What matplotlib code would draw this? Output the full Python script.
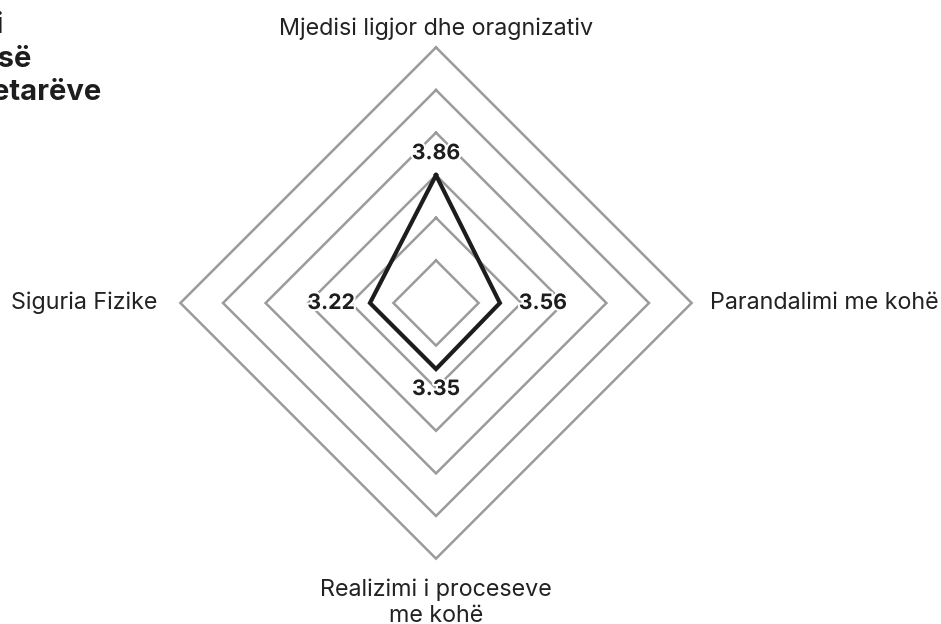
import matplotlib

matplotlib.use("Agg")
import matplotlib.patheffects as pe
import matplotlib.pyplot as plt
import numpy as np

plt.rcParams["font.family"] = ["Inter", "DejaVu Sans"]

# data
categories = [
    "Mjedisi ligjor dhe oragnizativ",
    "Parandalimi me kohë",
    "Realizimi i proceseve\nme kohë",
    "Siguria Fizike",
]
values = [3.86, 3.56, 3.35, 3.22]          # printed labels
drawn = [3.0, 1.5, 1.55, 1.55]             # where the polygon vertices sit on the grid
levels = [1, 2, 3, 4, 5, 6]
title_lines = ["Vlerësimi mesatar i", "perceptimit të sigurisë", "nga ana e vullnetarëve"]

W, H = 941, 624
fig = plt.figure(figsize=(W / 100, H / 100), dpi=100)

# axes centred on the radar, equal scale in both directions
cx, cy = 436, 321
lim = 7.2
half = lim * 42.6
ax = fig.add_axes([(cx - half) / W, (cy - half) / H, 2 * half / W, 2 * half / H])
ax.set_xlim(-lim, lim)
ax.set_ylim(-lim, lim)
ax.set_aspect("equal")
ax.axis("off")

angles = np.deg2rad([0, 90, 180, 270])
sx, sy = np.sin(angles), np.cos(angles)
ring_x = np.append(sx, sx[0])
ring_y = np.append(sy, sy[0])

for lvl in levels:
    ax.plot(lvl * ring_x, lvl * ring_y, color="#9b9b9b", linewidth=1.8,
            solid_joinstyle="miter", zorder=1)

r = np.array(drawn)
ax.plot(np.append(r * sx, r[0] * sx[0]), np.append(r * sy, r[0] * sy[0]),
        color="#1d1d1f", linewidth=3.0, solid_joinstyle="miter", zorder=3)

halo = [pe.withStroke(linewidth=3, foreground="white")]
val_offsets = [(0, 22), (43, 0), (0, -20), (-39, 0)]
for i, v in enumerate(values):
    ax.annotate(f"{v:.2f}", xy=(r[i] * sx[i], r[i] * sy[i]), xytext=val_offsets[i],
                textcoords="offset pixels", ha="center", va="center",
                fontsize=15.3, fontweight="bold", color="#1d1d1f",
                path_effects=halo, zorder=4)

top = levels[-1]
cat_pos = [
    ((0, 19), "center", "center"),
    ((18, 0), "left", "center"),
    ((0, -44), "center", "center"),
    ((-23, 0), "right", "center"),
]
for i, name in enumerate(categories):
    off, ha, va = cat_pos[i]
    ax.annotate(name, xy=(top * sx[i], top * sy[i]), xytext=off,
                textcoords="offset pixels", ha=ha, va=va, multialignment="center",
                fontsize=16.8, color="#222222", linespacing=1.27)

# title runs off the left edge of the canvas, as in the source
line_ends = [3, 31, 101]
baselines = [33, 67, 100]
for line, xe, yb in zip(title_lines, line_ends, baselines):
    fig.text(xe / W, 1 - yb / H, line, ha="right", va="baseline",
             fontsize=21, fontweight="bold", color="#1d1d1f")

fig.savefig("out.png", dpi=100)
